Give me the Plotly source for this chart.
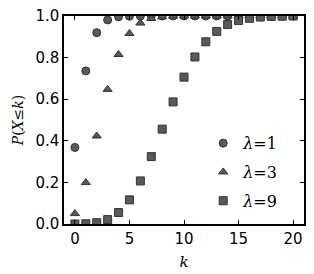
import plotly.graph_objects as go

k = list(range(21))
cdf_l1 = [0.368, 0.736, 0.920, 0.981, 0.996, 0.999, 1.0, 1.0, 1.0, 1.0, 1.0,
          1.0, 1.0, 1.0, 1.0, 1.0, 1.0, 1.0, 1.0, 1.0, 1.0]
cdf_l3 = [0.050, 0.199, 0.423, 0.647, 0.815, 0.916, 0.966, 0.988, 0.996, 0.999, 1.0,
          1.0, 1.0, 1.0, 1.0, 1.0, 1.0, 1.0, 1.0, 1.0, 1.0]
cdf_l9 = [0.0001, 0.0012, 0.0062, 0.0212, 0.055, 0.116, 0.207, 0.324, 0.456, 0.587, 0.706,
          0.803, 0.876, 0.926, 0.959, 0.978, 0.989, 0.995, 0.998, 0.999, 1.0]
series = [("<i>λ</i>=1", cdf_l1, "circle"),
          ("<i>λ</i>=3", cdf_l3, "triangle-up"),
          ("<i>λ</i>=9", cdf_l9, "square")]
x_ticks = [0, 5, 10, 15, 20]
y_ticks = [0.0, 0.2, 0.4, 0.6, 0.8, 1.0]

fig = go.Figure()
for i, (name, vals, sym) in enumerate(series):
    fig.add_trace(go.Scatter(
        x=k, y=vals, mode="markers", name=name, cliponaxis=True, legendgroup=f"g{i}",
        marker=dict(symbol=sym, size=8, color="#595959",
                    line=dict(color="#333333", width=1))))

axis_common = dict(showline=True, linecolor="black", linewidth=1.5, mirror="allticks",
                   ticks="inside", ticklen=4, tickwidth=1, tickcolor="black",
                   showgrid=False, zeroline=False, automargin=False,
                   ticklabeloverflow="allow",
                   tickfont=dict(family="DejaVu Sans", size=15, color="black"))
fig.update_xaxes(range=[-1, 21], tickvals=x_ticks, ticktext=[str(v) for v in x_ticks],
                 title=dict(text="<i>k</i>", font=dict(family="DejaVu Serif", size=15, color="black"),
                            standoff=10),
                 **axis_common)
fig.update_yaxes(range=[0, 1], tickvals=y_ticks, ticktext=[f"{v:.1f}" for v in y_ticks],
                 title=dict(text="<i>P</i>(<i>X</i>≤<i>k</i>)",
                            font=dict(family="DejaVu Serif", size=14, color="black"), standoff=8),
                 **axis_common)
# page body has an 8px margin; figure is placed at (8, 8)
fig.update_layout(
    width=306, height=266, margin=dict(l=56, r=10, t=8, b=50),
    paper_bgcolor="white", plot_bgcolor="white",
    showlegend=True,
    legend=dict(x=0.58, y=0.47, xanchor="left", yanchor="top",
                bgcolor="rgba(255,255,255,0)", borderwidth=0,
                font=dict(family="DejaVu Serif", size=16, color="black"),
                itemwidth=30, tracegroupgap=5),
)
fig.write_html("out.html")
